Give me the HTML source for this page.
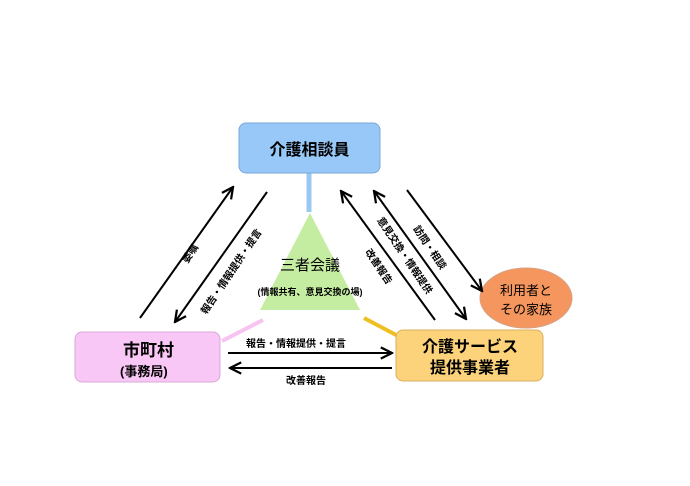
<!DOCTYPE html>
<html><head><meta charset="utf-8"><style>body{margin:0;background:#fff}svg{display:block}text{font-family:"Liberation Sans","Noto Sans CJK JP",sans-serif}</style></head><body>
<svg width="690" height="486" viewBox="0 0 690 486" xmlns="http://www.w3.org/2000/svg">
<defs><marker id="a" viewBox="0 0 10 10" refX="9" refY="5" markerWidth="7" markerHeight="7" orient="auto-start-reverse"><path d="M1,1 L9,5 L1,9" fill="none" stroke="#000" stroke-width="1.6"/></marker></defs>
<line x1="309" y1="173" x2="309" y2="212" stroke="#99c9f0" stroke-width="5"/>
<line x1="263" y1="320" x2="222" y2="341" stroke="#f6c4ef" stroke-width="4"/>
<line x1="364" y1="318" x2="398" y2="336" stroke="#eebf22" stroke-width="4"/>
<rect x="239" y="123" width="141" height="50" rx="7" fill="#97c8f7" stroke="#7aa8d8"/>
<text x="309.5" y="155" font-size="16" font-weight="bold" text-anchor="middle">介護相談員</text>
<polygon points="310,213 260,310 360,310" fill="#c5eda2"/>
<text x="310" y="270" font-size="15" text-anchor="middle">三者会議</text>
<text x="310" y="295" font-size="9" font-weight="bold" text-anchor="middle">(情報共有、意見交換の場)</text>
<rect x="75" y="332" width="145" height="50" rx="7" fill="#f9c7f5" stroke="#d8a8d8"/>
<text x="123" y="356" font-size="17" font-weight="bold">市町村</text>
<text x="120" y="376" font-size="13" font-weight="bold">(事務局)</text>
<rect x="396" y="330" width="147" height="51" rx="7" fill="#fcd27b" stroke="#d9b060"/>
<text x="470" y="352" font-size="16" font-weight="bold" text-anchor="middle">介護サービス</text>
<text x="470" y="373" font-size="16" font-weight="bold" text-anchor="middle">提供事業者</text>
<ellipse cx="526" cy="298" rx="46" ry="30" fill="#f5965e" stroke="#d8a080"/>
<text x="526" y="295" font-size="13" text-anchor="middle">利用者と</text>
<text x="526" y="314" font-size="13" text-anchor="middle">その家族</text>
<g stroke="#000" stroke-width="2" fill="none">
<line x1="140" y1="318" x2="233" y2="187" marker-end="url(#a)"/>
<line x1="267" y1="192" x2="175" y2="322" marker-end="url(#a)"/>
<line x1="228" y1="353" x2="392" y2="353" marker-end="url(#a)"/>
<line x1="392" y1="368" x2="230" y2="368" marker-end="url(#a)"/>
<line x1="435" y1="320" x2="341" y2="191" marker-end="url(#a)"/>
<line x1="374" y1="191" x2="466" y2="319" marker-start="url(#a)" marker-end="url(#a)"/>
<line x1="407" y1="190" x2="482" y2="291" marker-end="url(#a)"/>
</g>
<g font-size="10" font-weight="bold" text-anchor="middle" dominant-baseline="central">
<text transform="translate(191,254) rotate(-56)">委嘱</text>
<text transform="translate(232,272) rotate(-56)">報告・情報提供・提言</text>
<text transform="translate(378,267) rotate(56)">改善報告</text>
<text transform="translate(404,256) rotate(56)">意見交換・情報提供</text>
<text transform="translate(429,248) rotate(56)">訪問・相談</text>
</g>
<g font-size="10" font-weight="bold" text-anchor="middle">
<text x="296" y="347">報告・情報提供・提言</text>
<text x="306" y="384">改善報告</text>
</g>
</svg>
</body></html>
